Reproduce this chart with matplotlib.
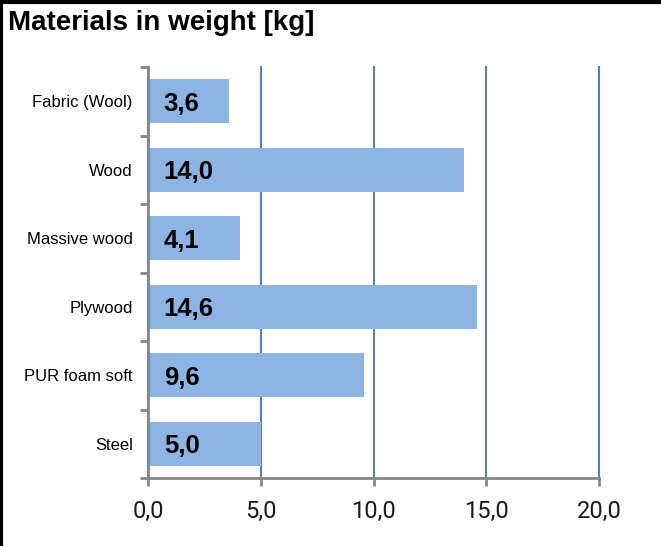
import matplotlib.pyplot as plt
from matplotlib.lines import Line2D

materials = ['Fabric (Wool)', 'Wood', 'Massive wood', 'Plywood', 'PUR foam soft', 'Steel']
weights = [3.6, 14.0, 4.1, 14.6, 9.6, 5.0]
x_ticks = [0, 5, 10, 15, 20]


def fmt(v) -> str:
    return f'{v:.1f}'.replace('.', ',')


def main() -> None:
    fig = plt.figure(figsize=(6.61, 5.46), dpi=100)
    ax = fig.add_axes([148 / 661, (546 - 478) / 546, (599 - 148) / 661, (478 - 67) / 546])

    pos = list(range(len(materials)))[::-1]
    ax.barh(pos, weights, height=0.64, color='#8DB4E2', zorder=3)
    for p, w in zip(pos, weights):
        ax.text(0.7, p - 0.04, fmt(w), fontsize=18.5, fontweight='bold',
                family='Liberation Sans', va='center', ha='left', zorder=4)

    ax.set_xlim(0, 20)
    ax.set_ylim(-0.5, len(materials) - 0.5)
    ax.set_xticks(x_ticks)
    ax.set_xticklabels([fmt(t) for t in x_ticks], family='Roboto', fontsize=17,
                       color='#1a1a1a')
    ax.set_yticks(pos)
    ax.set_yticklabels(materials, family='Liberation Sans', fontsize=12)
    ax.tick_params(axis='y', length=0, pad=11)
    ax.tick_params(axis='x', length=6, color='#868686', width=2, pad=10, direction='out')
    # category boundary ticks on the y axis
    ax.set_yticks([i - 0.5 for i in range(len(materials) + 1)], minor=True)
    ax.tick_params(axis='y', which='minor', length=6, color='#868686', width=2)

    ax.grid(axis='x', color='#4F81BD', linewidth=1.5, zorder=1)
    for line in ax.get_xgridlines():
        line.set_clip_on(False)
    for side in ['top', 'right']:
        ax.spines[side].set_visible(False)
    for side in ['left', 'bottom']:
        ax.spines[side].set_color('#868686')
        ax.spines[side].set_linewidth(2)
        ax.spines[side].set_zorder(5)

    fig.text(8 / 661, 1 - 23 / 546, 'Materials in weight [kg]', fontsize=20,
             fontweight='bold', family='Liberation Sans', va='center', ha='left')
    fig.add_artist(Line2D([0.002, 0.002], [0, 1], color='black', linewidth=3,
                          transform=fig.transFigure))
    fig.add_artist(Line2D([0, 1], [0.997, 0.997], color='black', linewidth=3,
                          transform=fig.transFigure))

    fig.savefig('out.png', dpi=100)


if __name__ == '__main__':
    main()
